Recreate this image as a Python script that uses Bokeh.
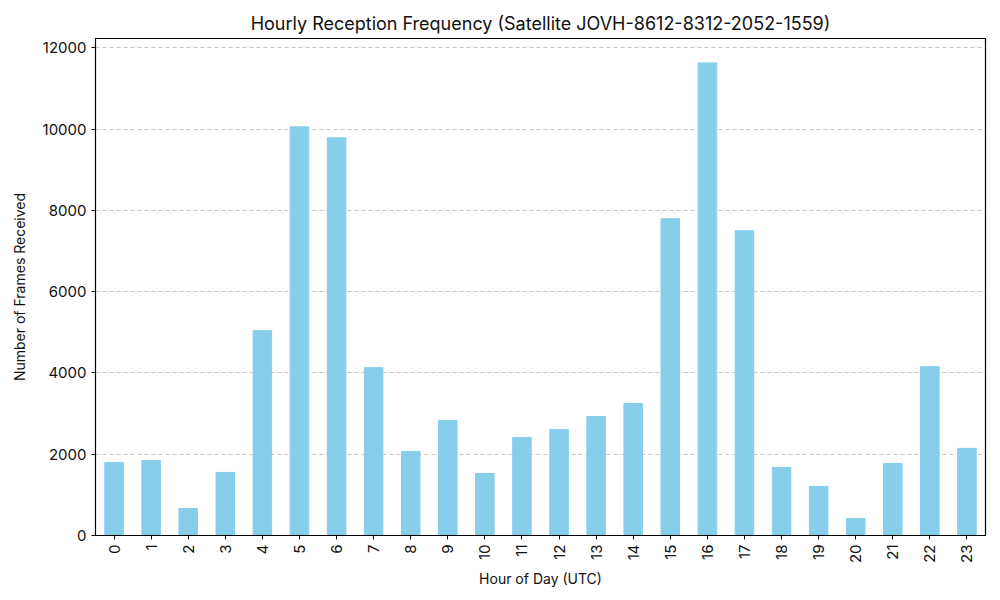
import math
from bokeh.plotting import figure
from bokeh.models import Range1d, FactorRange, SingleIntervalTicker, NumeralTickFormatter
from bokeh.embed import file_html
from bokeh.resources import INLINE

hours = [str(h) for h in range(24)]
frames = [1798, 1847, 665, 1552, 5041, 10057, 9786, 4131, 2069, 2828, 1527, 2414,
          2611, 2926, 3246, 7795, 11630, 7500, 1675, 1207, 419, 1773, 4155, 2143]

FONT = "Inter"

p = figure(frame_width=890, frame_height=497, x_range=FactorRange(*hours, range_padding=0),
           y_range=Range1d(0, 12230), output_backend="svg", toolbar_location=None,
           title="Hourly Reception Frequency (Satellite JOVH-8612-8312-2052-1559)",
           min_border_left=95, min_border_right=7, min_border_top=38, min_border_bottom=10)

p.vbar(x=hours, top=frames, width=0.5, color="#87CEEB")

p.title.align = "center"
p.title.text_font = FONT
p.title.text_font_size = "18px"
p.title.text_font_style = "normal"
p.title.text_color = "#111111"

p.outline_line_color = "black"
p.outline_line_width = 1.2

p.xgrid.grid_line_color = None
p.ygrid.grid_line_color = "#c8c8c8"
p.ygrid.grid_line_dash = "4 3"
p.ygrid.grid_line_width = 1

p.yaxis.ticker = SingleIntervalTicker(interval=2000)
p.yaxis.formatter = NumeralTickFormatter(format="0")
p.yaxis.minor_tick_line_color = None

for ax in (p.xaxis, p.yaxis):
    ax.axis_line_color = "black"
    ax.major_tick_line_color = "black"
    ax.major_tick_out = 4
    ax.major_tick_in = 0
    ax.major_label_text_font = FONT
    ax.major_label_text_font_size = "15px"
    ax.major_label_text_color = "#111111"
    ax.axis_label_text_font = FONT
    ax.axis_label_text_font_size = "14px"
    ax.axis_label_text_font_style = "normal"
    ax.axis_label_text_color = "#111111"

p.xaxis.major_label_orientation = math.pi / 2
p.xaxis.axis_label = "Hour of Day (UTC)"
p.yaxis.axis_label = "Number of Frames Received"
p.xaxis.axis_label_standoff = 4
p.yaxis.axis_label_standoff = 12

open("out.html", "w").write(file_html(p, INLINE))
